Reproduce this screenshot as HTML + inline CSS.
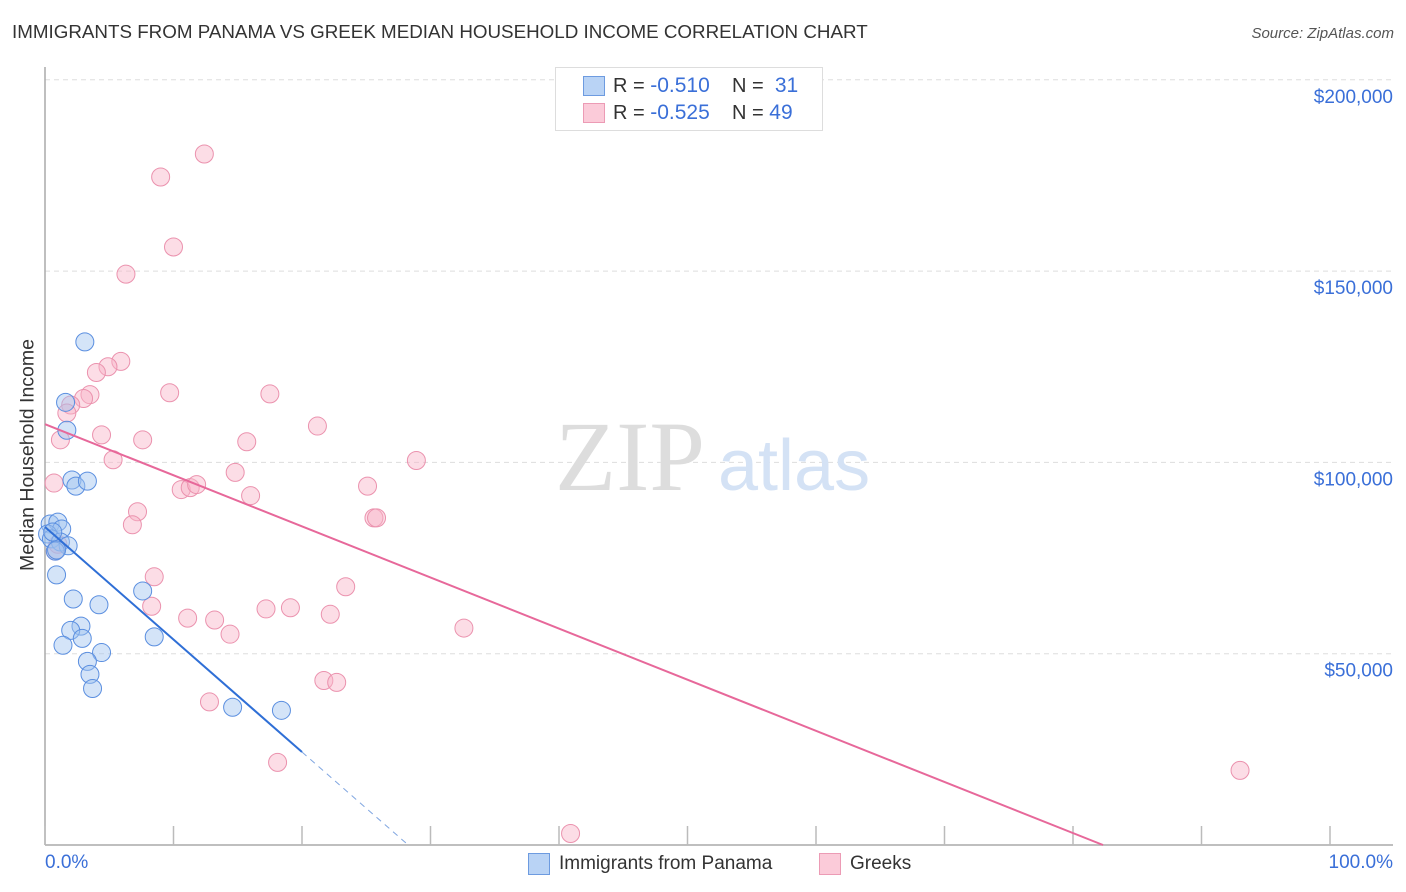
<!DOCTYPE html>
<html><head><meta charset="utf-8">
<style>
body{margin:0;background:#fff;font-family:"Liberation Sans",sans-serif;}
#wrap{position:relative;width:1406px;height:892px;overflow:hidden;}
.t{position:absolute;white-space:nowrap;}
</style></head>
<body>
<div id="wrap">
<div class="t" style="left:12px;top:21px;font-size:18.8px;color:#333;">IMMIGRANTS FROM PANAMA VS GREEK MEDIAN HOUSEHOLD INCOME CORRELATION CHART</div>
<div class="t" style="right:12px;top:25px;font-size:15px;color:#555;font-style:italic;">Source: ZipAtlas.com</div>
<svg id="svg" width="1406" height="892" style="position:absolute;left:0;top:0"></svg>
</div>
<script>
const blueX=[3.1,1.6,1.7,2.1,2.4,3.3,0.4,1.0,1.3,0.2,0.5,1.2,1.8,0.8,0.9,2.2,4.2,7.6,2.8,2.0,2.9,1.4,4.4,3.3,3.5,3.7,8.5,14.6,18.4,0.6,0.9];
const blueY=[131500,115700,108400,95400,93800,95100,83900,84400,82600,81300,80000,79200,78200,76800,70600,64300,62800,66400,57200,56100,54000,52200,50300,48000,44600,40900,54400,36000,35200,81800,77100];
const pinkX=[12.4,9.0,10.0,6.3,5.9,4.9,4.0,3.5,3.0,9.7,17.5,2.0,1.7,1.2,4.4,7.6,15.7,21.2,5.3,28.9,14.8,10.6,11.3,11.8,16.0,25.1,7.2,6.8,25.6,25.8,8.5,23.4,8.3,11.1,17.2,19.1,13.2,22.2,14.4,32.6,12.8,21.7,22.7,18.1,93.0,40.9,0.7,0.8,1.0];
const pinkY=[180600,174600,156300,149200,126400,125000,123500,117700,116700,118200,117900,115000,112900,105900,107200,105900,105400,109500,100700,100500,97400,92900,93400,94200,91300,93800,87100,83700,85500,85500,70100,67500,62400,59300,61700,62000,58800,60300,55100,56700,37400,43000,42500,21600,19500,3000,94600,76800,78600];
const blueFit=[83100,-2940];
const pinkFit=[110000,-1336];
const yTicks=[50000,100000,150000,200000];
const yLabels=["$50,000","$100,000","$150,000","$200,000"];

const svg=document.getElementById('svg');
const NS='http://www.w3.org/2000/svg';
const X=v=>45+v*12.85;
const Y=v=>845-v/50000*191.3;
function el(tag,attrs,parent){const e=document.createElementNS(NS,tag);for(const k in attrs)e.setAttribute(k,attrs[k]);(parent||svg).appendChild(e);return e;}

yTicks.forEach((t,i)=>{
  const g=el('line',{x1:45,x2:1393,y1:Y(t),y2:Y(t),stroke:'#ddd','stroke-dasharray':'5,4'});
  
  
  const tx=el('text',{x:1393,y:Y(t)+23,'text-anchor':'end','font-size':19,fill:'#3a6fd8','font-family':'Liberation Sans'});
  tx.textContent=yLabels[i];
  
  
});
const ax=el('line',{x1:45,x2:45,y1:67,y2:845,stroke:'#aaa','stroke-width':1.5});


const axx=el('line',{x1:45,x2:1393,y1:845,y2:845,stroke:'#aaa','stroke-width':1.5});


for(let i=0;i<=10;i++){
  const tk=el('line',{x1:X(i*10),x2:X(i*10),y1:826,y2:845,stroke:'#bbb','stroke-width':1.5});
  
  
}
const wm=el('text',{x:555,y:490,'font-size':100,fill:'#ddd','font-family':'Liberation Serif'});
wm.textContent='ZIP';


const wm2=el('text',{x:718,y:490,'font-size':72,fill:'#d4e2f5','font-family':'Liberation Sans'});
wm2.textContent='atlas';



pinkX.forEach((x,i)=>{
  const c=el('circle',{cx:X(x),cy:Y(pinkY[i]),r:9,fill:'rgba(248,180,200,0.45)',stroke:'#eb92ae','stroke-width':1});
  
  
});
blueX.forEach((x,i)=>{
  const c=el('circle',{cx:X(x),cy:Y(blueY[i]),r:9,fill:'rgba(160,195,240,0.45)',stroke:'#5b8fe0','stroke-width':1});
  
  
});
const bEnd=20, bZero=-blueFit[0]/blueFit[1];
const bl=el('line',{x1:X(0),y1:Y(blueFit[0]),x2:X(bEnd),y2:Y(blueFit[0]+blueFit[1]*bEnd),stroke:'#2f6fd6','stroke-width':2});


const bd=el('line',{x1:X(bEnd),y1:Y(blueFit[0]+blueFit[1]*bEnd),x2:X(bZero),y2:Y(0),stroke:'#7fa5e0','stroke-width':1,'stroke-dasharray':'6,5'});


const pZero=-pinkFit[0]/pinkFit[1];
const pl=el('line',{x1:X(0),y1:Y(pinkFit[0]),x2:X(pZero),y2:Y(0),stroke:'#e7689a','stroke-width':2});


</script>
<div class="t" style="left:28px;top:455px;transform:translate(-50%,-50%) rotate(-90deg);font-size:19.5px;color:#333;">Median Household Income</div>
<div class="t" style="left:45px;top:852px;font-size:19px;color:#3a6fd8;">0.0%</div>
<div class="t" style="right:13px;top:852px;font-size:19px;color:#3a6fd8;">100.0%</div>
<div style="position:absolute;left:555px;top:67px;width:266px;height:62px;border:1px solid #ddd;background:#fff;font-size:20px;">
 <div class="t" style="left:27px;top:8px;width:20px;height:18px;background:#b9d3f5;border:1px solid #6d9be0;"></div>
 <div class="t" style="left:57px;top:6px;color:#333;">R = <span style="color:#3a6fd8;font-size:21px">-0.510</span>&nbsp;&nbsp;&nbsp; N = &nbsp;<span style="color:#3a6fd8;font-size:21px">31</span></div>
 <div class="t" style="left:27px;top:35px;width:20px;height:18px;background:#fbcbd9;border:1px solid #ec9bb5;"></div>
 <div class="t" style="left:57px;top:33px;color:#333;">R = <span style="color:#3a6fd8;font-size:21px">-0.525</span>&nbsp;&nbsp;&nbsp; N = <span style="color:#3a6fd8;font-size:21px">49</span></div>
</div>
<div class="t" style="left:528px;top:853px;width:20px;height:20px;background:#b9d3f5;border:1px solid #6d9be0;"></div>
<div class="t" style="left:559px;top:853px;font-size:19px;color:#333;">Immigrants from Panama</div>
<div class="t" style="left:819px;top:853px;width:20px;height:20px;background:#fbcbd9;border:1px solid #ec9bb5;"></div>
<div class="t" style="left:850px;top:853px;font-size:19px;color:#333;">Greeks</div>
</body></html>
